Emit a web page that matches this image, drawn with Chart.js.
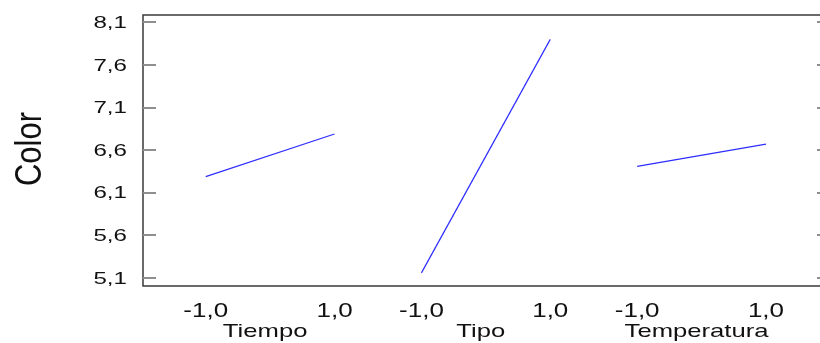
<!DOCTYPE html>
<html lang="es">
<head>
    <meta charset="UTF-8">
    <title>Efectos principales - Color</title>
    <script src="https://cdn.jsdelivr.net/npm/chart.js"></script>
    <style>
        html, body { margin: 0; padding: 0; overflow: hidden; background: #fff; }
        #wrap { position: relative; width: 820px; height: 343px; }
    </style>
</head>
<body>
    <div id="wrap"><canvas id="colorChart" width="820" height="343"></canvas></div>

    <script>
        var factors = ['Tiempo', 'Tipo', 'Temperatura'];
        var levels = [-1, 1];
        var levelLabels = ['-1,0', '1,0'];
        var colorLow = [6.29, 5.16, 6.41];
        var colorHigh = [6.79, 7.90, 6.67];
        var yTicks = [5.1, 5.6, 6.1, 6.6, 7.1, 7.6, 8.1];
        var yTickLabels = ['5,1', '5,6', '6,1', '6,6', '7,1', '7,6', '8,1'];
        var yTitle = 'Color';

        var GAP = 3.35; // distance between factor groups, in level units

        var datasets = factors.map(function(f, g) {
            return {
                label: f,
                data: [
                    { x: g * GAP + levels[0], y: colorLow[g] },
                    { x: g * GAP + levels[1], y: colorHigh[g] }
                ],
                borderColor: 'rgb(45, 45, 255)',
                borderWidth: 1.2,
                pointRadius: 0,
                fill: false,
                tension: 0
            };
        });

        function drawText(ctx, txt, x, y, sx, sy, align, base) {
            ctx.save();
            ctx.translate(x, y);
            ctx.scale(sx, sy);
            ctx.textAlign = align;
            ctx.textBaseline = base;
            ctx.fillText(txt, 0, 0);
            ctx.restore();
        }

        var framePlugin = {
            id: 'frame',
            afterDraw: function(chart) {
                var ctx = chart.ctx;
                var a = chart.chartArea;
                var xs = chart.scales.x;
                var ys = chart.scales.y;
                ctx.save();

                // box without right side (cut off by the picture edge)
                ctx.strokeStyle = '#3a3a3a';
                ctx.lineWidth = 1.5;
                ctx.beginPath();
                ctx.moveTo(chart.width + 5, a.top);
                ctx.lineTo(a.left, a.top);
                ctx.lineTo(a.left, a.bottom);
                ctx.lineTo(chart.width + 5, a.bottom);
                ctx.stroke();

                // tick marks pointing inwards
                ctx.strokeStyle = '#8f8f8f';
                ctx.lineWidth = 2;
                ctx.beginPath();
                yTicks.forEach(function(v) {
                    var py = Math.round(ys.getPixelForValue(v));
                    ctx.moveTo(a.left, py);
                    ctx.lineTo(a.left + 13, py);
                    ctx.moveTo(chart.width, py);
                    ctx.lineTo(chart.width - 3, py);
                });
                ctx.stroke();

                ctx.fillStyle = '#111';

                // y tick labels
                ctx.font = '17px "Liberation Sans", Arial, sans-serif';
                yTicks.forEach(function(v, i) {
                    drawText(ctx, yTickLabels[i], 127, ys.getPixelForValue(v) + 1, 1.42, 1, 'right', 'middle');
                });

                // x tick labels and factor names
                factors.forEach(function(f, g) {
                    ctx.font = '20px "Liberation Sans", Arial, sans-serif';
                    levels.forEach(function(l, j) {
                        drawText(ctx, levelLabels[j], xs.getPixelForValue(g * GAP + l), 317, 1.3, 1, 'center', 'alphabetic');
                    });
                    ctx.font = '19px "Liberation Sans", Arial, sans-serif';
                    drawText(ctx, f, xs.getPixelForValue(g * GAP) - 5, 337, 1.35, 1, 'center', 'alphabetic');
                });

                // y axis title
                ctx.font = '31px "Liberation Sans", Arial, sans-serif';
                ctx.save();
                ctx.translate(41, 149);
                ctx.rotate(-Math.PI / 2);
                ctx.scale(1, 1.17);
                ctx.textAlign = 'center';
                ctx.textBaseline = 'alphabetic';
                ctx.fillText(yTitle, 0, 0);
                ctx.restore();

                ctx.restore();
            }
        };

        var ctx = document.getElementById('colorChart').getContext('2d');
        var colorChart = new Chart(ctx, {
            type: 'line',
            data: { datasets: datasets },
            options: {
                responsive: false,
                animation: false,
                layout: { padding: { left: 143, right: 0, top: 15, bottom: 57 } },
                plugins: {
                    legend: { display: false },
                    tooltip: { enabled: false }
                },
                scales: {
                    x: { type: 'linear', display: false, min: -1.974, max: 8.539 },
                    y: { type: 'linear', display: false, min: 5.006, max: 8.186 }
                }
            },
            plugins: [framePlugin]
        });
    </script>
</body>
</html>
